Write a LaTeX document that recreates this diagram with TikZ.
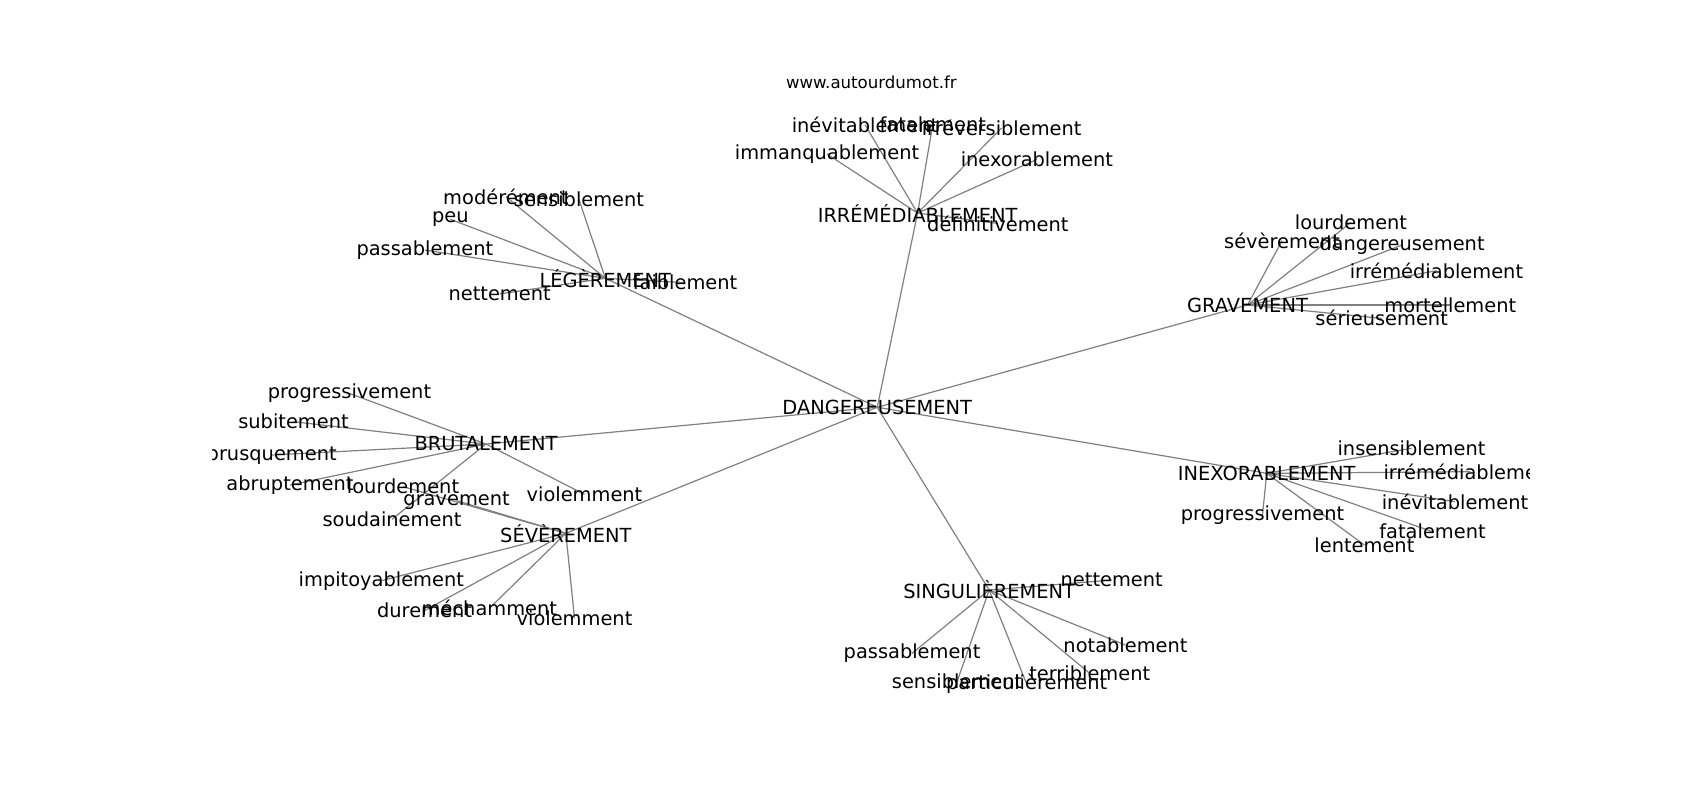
\documentclass[tikz,border=0pt]{standalone}
\usepackage{fontspec}
\setmainfont{DejaVu Sans}
\usepackage{tikz}
\usetikzlibrary{backgrounds}

\begin{document}
\begin{tikzpicture}[x=1.0846pt, y=-1.0846pt,
		word/.style={inner sep=0pt, font=\fontsize{19.4}{23}\selectfont},
		site/.style={inner sep=0pt, font=\fontsize{16.6}{20}\selectfont},
		link/.style={draw=gray, line width=1.2pt}]
		\useasboundingbox (0,0) rectangle (1567.4,737.6);
		
		\node[site] (site) at (803.4,76.2) {www.autourdumot.fr};
		
		\begin{scope}
		\clip (195.9,88.5) rectangle (1410.6,656.5);
		\node[word] (dang) at (808.8,375.5) {DANGEREUSEMENT};
		
		\node[word] (irr) at (846,196.5) {IRRÉMÉDIABLEMENT};
		\node[word] (irr1) at (797.5,115) {inévitablement};
		\node[word] (irr2) at (860,115) {fatalement};
		\node[word] (irr3) at (923.5,118) {irréversiblement};
		\node[word] (irr4) at (762.5,142) {immanquablement};
		\node[word] (irr5) at (956,147) {inexorablement};
		\node[word] (irr6) at (920,206) {définitivement};
		
		\node[word] (leg) at (558.1,256.6) {LÉGÈREMENT};
		\node[word] (leg1) at (466.4,181.3) {modérément};
		\node[word] (leg2) at (533.8,183.8) {sensiblement};
		\node[word] (leg3) at (415.2,202.2) {peu};
		\node[word] (leg4) at (391.7,230.5) {passablement};
		\node[word] (leg5) at (460.7,271) {nettement};
		\node[word] (leg6) at (631.6,260.6) {faiblement};
		
		\node[word] (grav) at (1150.2,281.2) {GRAVEMENT};
		\node[word] (grav1) at (1245.6,205) {lourdement};
		\node[word] (grav2) at (1182,221.9) {sévèrement};
		\node[word] (grav3) at (1292.6,225.9) {dangereusement};
		\node[word] (grav4) at (1324.4,249.6) {irrémédiablement};
		\node[word] (grav5) at (1337.2,281.2) {mortellement};
		\node[word] (grav6) at (1273.9,293.5) {sérieusement};
		
		\node[word] (brut) at (448.1,409.4) {BRUTALEMENT};
		\node[word] (brut1) at (322.2,362.7) {progressivement};
		\node[word] (brut2) at (270.6,388.8) {subitement};
		\node[word] (brut3) at (250.5,419.5) {brusquement};
		\node[word] (brut4) at (267.4,447.2) {abruptement};
		\node[word] (brut5) at (361.4,478.8) {soudainement};
		\node[word] (brut6) at (538.9,455.8) {violemment};
		
		\node[word] (sev) at (521.7,491.7) {SÉVÈREMENT};
		\node[word] (sev1) at (371.6,448.7) {lourdement};
		\node[word] (sev2) at (421,461.6) {gravement};
		\node[word] (sev3) at (351.6,535.4) {impitoyablement};
		\node[word] (sev4) at (391.4,563) {durement};
		\node[word] (sev5) at (451.2,560.9) {méchamment};
		\node[word] (sev6) at (529.7,570.1) {violemment};
		
		\node[word] (inex) at (1167.9,436.4) {INEXORABLEMENT};
		\node[word] (inex1) at (1301.4,413.4) {insensiblement};
		\node[word] (inex2) at (1355.5,434.9) {irrémédiablement};
		\node[word] (inex3) at (1164,474.8) {progressivement};
		\node[word] (inex4) at (1341.5,462.5) {inévitablement};
		\node[word] (inex5) at (1320.8,490.2) {fatalement};
		\node[word] (inex6) at (1258,502.5) {lentement};
		
		\node[word] (sing) at (912,544) {SINGULIÈREMENT};
		\node[word] (sing1) at (1025,534.8) {nettement};
		\node[word] (sing2) at (840.9,602.4) {passablement};
		\node[word] (sing3) at (1037.7,594.7) {notablement};
		\node[word] (sing4) at (1004.7,620.8) {terriblement};
		\node[word] (sing5) at (882.4,628.5) {sensiblement};
		\node[word] (sing6) at (946.6,630.7) {particulièrement};
		\end{scope}
		
		\begin{pgfonlayer}{background}
		\fill[white] (0,0) rectangle (1567.4,737.6);
		\foreach \h in {irr,leg,grav,brut,sev,inex,sing}
			\path[link](dang.center) edge (\h.center);
		\foreach \h in {irr,leg,grav,brut,sev,inex,sing}
			\foreach \i in {1,...,6}
				\path[link](\h.center) edge (\h\i.center);
		\end{pgfonlayer}
		
	\end{tikzpicture}
\end{document}
